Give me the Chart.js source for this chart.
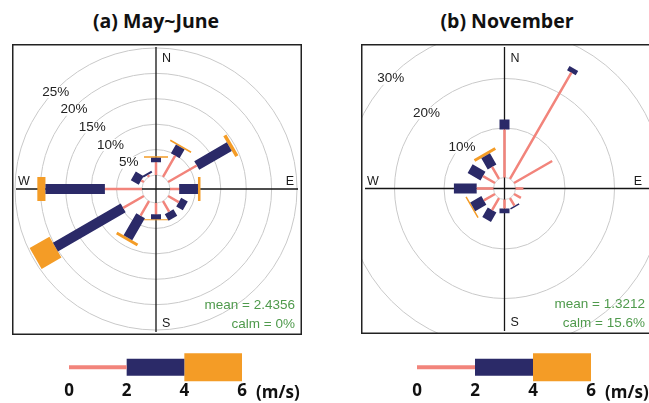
<!DOCTYPE html>
<html>
<head>
<meta charset="utf-8">
<script src="https://cdn.jsdelivr.net/npm/chart.js@4.4.0/dist/chart.umd.min.js"></script>
<style>
html,body{margin:0;padding:0;background:#fff;}
body{width:649px;height:403px;position:relative;overflow:hidden;font-family:"Open Sans","Noto Sans",sans-serif;}
.title{position:absolute;top:7px;font-weight:700;font-size:19.5px;line-height:27px;color:#111;transform:translateX(-50%);white-space:nowrap;}
canvas{position:absolute;}
.unit{position:absolute;top:382px;font-weight:700;font-size:17px;line-height:20px;color:#111;white-space:nowrap;}
</style>
</head>
<body>
<div class="title" style="left:156px">(a) May~June</div>
<div class="title" style="left:507px">(b) November</div>
<canvas id="roseA" width="290" height="291" style="left:12px;top:44px"></canvas>
<canvas id="roseB" width="292" height="290" style="left:361px;top:44px"></canvas>
<canvas id="legA" width="213" height="56" style="left:49px;top:342px"></canvas>
<canvas id="legB" width="214" height="56" style="left:397px;top:342px"></canvas>
<div class="unit" style="left:256px">(m/s)</div>
<div class="unit" style="left:605px">(m/s)</div>
<script>
// ---- data (frequency %) ----
const directions = [0, 30, 60, 90, 120, 150, 180, 210, 240, 270, 300, 330];
const speedTicks = [0, 2, 4, 6];

const mayJune_0to2 = [2.5, 4.8, 6.5, 1.8, 2.4, 2.4, 2.2, 3.3, 4.7, 7.3, 0.6, 0.4];
const mayJune_2to4 = [0.9, 2.0, 7.4, 3.7, 1.5, 1.5, 1.0, 5.0, 15.4, 11.7, 1.8, 0.4];
const mayJune_4to6 = [0.3, 0.3, 0.7, 0.5, 0.0, 0.0, 0.2, 0.6, 4.5, 1.6, 0.0, 0.0];
const mayJuneRings = [5, 10, 15, 20, 25];
const mayJuneMean = "mean = 2.4356";
const mayJuneCalm = "calm = 0%";

const nov_0to2 = [9.7, 24.8, 8.9, 1.6, 1.6, 1.8, 1.8, 2.8, 2.6, 3.4, 2.8, 2.8];
const nov_2to4 = [2.0, 1.0, 0.0, 0.0, 0.0, 0.3, 1.0, 2.2, 2.6, 4.6, 3.0, 2.6];
const nov_4to6 = [0.0, 0.0, 0.0, 0.0, 0.0, 0.0, 0.0, 0.0, 0.3, 0.0, 0.0, 0.6];
const novRings = [10, 20, 30];
const novMean = "mean = 1.3212";
const novCalm = "calm = 15.6%";

// ---- styles ----
const BIN_COLORS = ['#F2847B', '#2B2A68', '#F49C26'];
const ROSE_WIDTHS = [2.5, 10, 24];
const LEG_WIDTHS = [4, 17, 28];
const LABEL_FONT = '"Liberation Sans", Arial, sans-serif';

function rosePlugin(rings, offset, meanText, calmText, g) {
  return {
    id: 'roseDecor',
    beforeDatasetsDraw(chart) {
      const {ctx, chartArea: a, scales: {x, y}} = chart;
      const cx = x.getPixelForValue(0), cy = y.getPixelForValue(0);
      const u = x.getPixelForValue(1) - cx;
      ctx.save();
      ctx.strokeStyle = '#c9c9c9';
      ctx.lineWidth = 1;
      rings.forEach(v => {
        ctx.beginPath(); ctx.arc(cx, cy, (offset + v) * u, 0, Math.PI * 2); ctx.stroke();
      });
      ctx.strokeStyle = '#d2d2d2';
      ctx.beginPath(); ctx.arc(cx, cy, offset * u, 0, Math.PI * 2); ctx.stroke();
      // ring labels
      ctx.font = '13.5px ' + LABEL_FONT;
      ctx.textAlign = 'center'; ctx.textBaseline = 'middle';
      const ang = 314 * Math.PI / 180;
      rings.forEach(v => {
        const r = (offset + v) * u - 1.5;
        const px = cx + r * Math.sin(ang), py = cy - r * Math.cos(ang);
        const t = v + '%';
        const w = ctx.measureText(t).width;
        ctx.fillStyle = '#fff';
        ctx.fillRect(px - w / 2 - 1, py - 6, w + 2, 12);
        ctx.fillStyle = '#222';
        ctx.fillText(t, px, py);
      });
      // axes
      ctx.strokeStyle = '#151515';
      ctx.lineWidth = 1.3;
      ctx.beginPath();
      ctx.moveTo(a.left + 4, cy); ctx.lineTo(a.right - 4, cy);
      ctx.moveTo(cx, a.top + 3); ctx.lineTo(cx, a.bottom - 3);
      ctx.stroke();
      ctx.restore();
    },
    afterDraw(chart) {
      const {ctx, chartArea: a, scales: {x, y}} = chart;
      const cx = x.getPixelForValue(0), cy = y.getPixelForValue(0);
      ctx.save();
      ctx.strokeStyle = '#222'; ctx.lineWidth = 1.5;
      ctx.strokeRect(a.left + 0.75, a.top + 0.75, a.right - a.left - 1.5, a.bottom - a.top - 1.5);
      ctx.fillStyle = '#1a1a1a';
      ctx.font = '12.5px ' + LABEL_FONT;
      ctx.textBaseline = 'middle';
      ctx.textAlign = 'left';
      ctx.fillText('N', cx + 6, a.top + 15);
      ctx.fillText('S', cx + 6, a.bottom - 11);
      ctx.fillText('W', a.left + 6, cy - 7);
      ctx.textAlign = 'right';
      ctx.fillText('E', a.right - g.eInset, cy - 7);
      ctx.fillStyle = '#4f9a4c';
      ctx.font = '13.5px ' + LABEL_FONT;
      ctx.fillText(meanText, a.right - g.statInset, a.bottom - 30);
      ctx.fillText(calmText, a.right - g.statInset, a.bottom - 11);
      ctx.restore();
    }
  };
}

function makeRose(id, bins, rings, meanText, calmText, g) {
  const canvas = document.getElementById(id);
  const W = canvas.width, H = canvas.height;
  const xMin = -g.cx / g.k, xMax = (W - g.cx) / g.k;
  const yMax = g.cy / g.k, yMin = -(H - g.cy) / g.k;
  const datasets = bins.map((vals, b) => {
    const data = [];
    directions.forEach((deg, i) => {
      if (!(vals[i] > 0)) return;
      let start = g.offset;
      for (let j = 0; j < b; j++) start += bins[j][i];
      const end = start + vals[i];
      const t = deg * Math.PI / 180;
      data.push({x: start * Math.sin(t), y: start * Math.cos(t)},
                {x: end * Math.sin(t), y: end * Math.cos(t)},
                {x: null, y: null});
    });
    return {
      data, showLine: true, spanGaps: false, fill: false,
      borderColor: BIN_COLORS[b], backgroundColor: BIN_COLORS[b],
      borderWidth: ROSE_WIDTHS[b], borderCapStyle: 'butt', borderJoinStyle: 'miter',
      borderDash: [4000, 0], pointRadius: 0, pointHoverRadius: 0, clip: false
    };
  });
  new Chart(canvas, {
    type: 'scatter',
    data: {datasets},
    options: {
      responsive: false, animation: false, events: [],
      layout: {padding: 0},
      plugins: {legend: {display: false}, tooltip: {enabled: false}, title: {display: false}},
      scales: {
        x: {type: 'linear', display: false, min: xMin, max: xMax},
        y: {type: 'linear', display: false, min: yMin, max: yMax}
      }
    },
    plugins: [rosePlugin(rings, g.offset, meanText, calmText, g)]
  });
}

function makeLegend(id) {
  const datasets = [0, 1, 2].map(b => ({
    data: [{x: speedTicks[b], y: 0}, {x: speedTicks[b + 1], y: 0}],
    showLine: true, borderColor: BIN_COLORS[b], borderWidth: LEG_WIDTHS[b],
    borderCapStyle: 'butt', borderDash: [4000, 0], pointRadius: 0, clip: false
  }));
  new Chart(document.getElementById(id), {
    type: 'scatter',
    data: {datasets},
    options: {
      responsive: false, animation: false, events: [],
      layout: {padding: {left: 20, right: 20, top: 0, bottom: 0}},
      plugins: {legend: {display: false}, tooltip: {enabled: false}},
      scales: {
        x: {
          type: 'linear', min: 0, max: 6,
          afterBuildTicks: axis => { axis.ticks = speedTicks.map(v => ({value: v})); },
          grid: {display: false}, border: {display: false},
          ticks: {font: {family: '"Open Sans", "Noto Sans", sans-serif', weight: 'bold', size: 17}, color: '#111', padding: 3, maxRotation: 0}
        },
        y: {display: false, min: -1, max: 9}
      }
    }
  });
}

makeRose('roseA', [mayJune_0to2, mayJune_2to4, mayJune_4to6], mayJuneRings, mayJuneMean, mayJuneCalm,
  {cx: 144, cy: 145, k: 5.08, offset: 2.76, eInset: 8, statInset: 7});
makeRose('roseB', [nov_0to2, nov_2to4, nov_4to6], novRings, novMean, novCalm,
  {cx: 143.5, cy: 144.5, k: 4.95, offset: 2.22, eInset: 11, statInset: 8});
makeLegend('legA');
makeLegend('legB');
</script>
</body>
</html>
